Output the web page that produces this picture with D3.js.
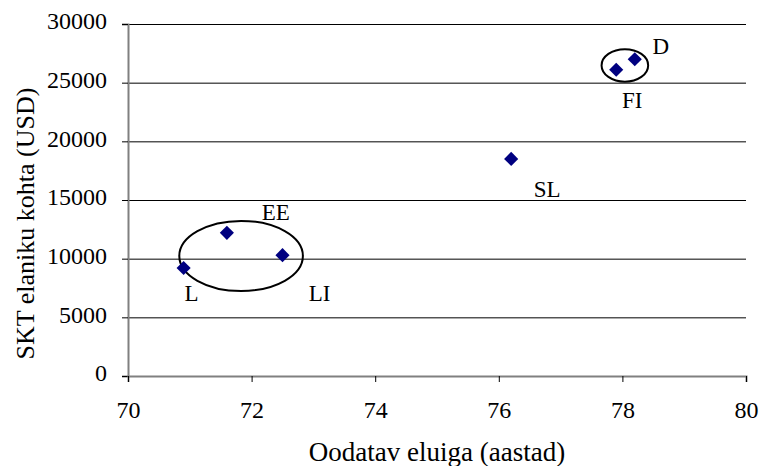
<!DOCTYPE html>
<html>
<head>
<meta charset="utf-8">
<script src="https://cdn.jsdelivr.net/npm/d3@7/dist/d3.min.js"></script>
<style>
html,body{margin:0;padding:0;background:#fff;}
</style>
</head>
<body>
<svg id="chart" width="760" height="466"></svg>
<script>
// Data
const countries = ["L", "EE", "LI", "SL", "FI", "D"];
const lifeExpectancy = [70.9, 71.6, 72.5, 76.2, 77.9, 78.2];
const gdpPerCapita = [9200, 12200, 10300, 18500, 26100, 27000];
const xTicks = [70, 72, 74, 76, 78, 80];
const yTicks = [0, 5000, 10000, 15000, 20000, 25000, 30000];
const xTitle = "Oodatav eluiga (aastad)";
const yTitle = "SKT elaniku kohta (USD)";
// Group ellipses (data units): centre x, centre y, radius x, radius y
const groupCx = [71.83, 78.04];
const groupCy = [10230, 26470];
const groupRx = [1.0, 0.377];
const groupRy = [2990, 1385];

// Label offsets (pixels) relative to each point
const labelDx = {L: 8, EE: 49, LI: 37, SL: 36, FI: 16, D: 26};
const labelDy = {L: 25, EE: -20, LI: 38, SL: 31, FI: 31, D: -13};

const FONT = "'Liberation Serif', 'Times New Roman', serif";

const svg = d3.select("#chart");
const mLeft = 128, mRight = 746, mTop = 24, mBottom = 376;

const x = d3.scaleLinear().domain([70, 80]).range([mLeft, mRight]);
const y = d3.scaleLinear().domain([0, 30000]).range([mBottom, mTop]);

// gridlines
svg.append("g").selectAll("line").data(yTicks.filter(d => d > 0)).join("line")
  .attr("x1", mLeft).attr("x2", mRight)
  .attr("y1", d => y(d) + 0.5).attr("y2", d => y(d) + 0.5)
  .attr("stroke", "#000").attr("stroke-width", 1);

// y axis
const yAxis = svg.append("g").attr("transform", `translate(${mLeft},0)`)
  .call(d3.axisLeft(y).tickValues(yTicks).tickFormat(d3.format("d")).tickSize(6).tickPadding(15));
yAxis.attr("font-family", FONT).attr("font-size", 24);
yAxis.select(".domain").attr("stroke", "#808080").attr("stroke-width", 2);
yAxis.selectAll(".tick line").attr("stroke", "#000");
yAxis.selectAll(".tick text").style("font-family", FONT).style("font-size", "24px")
  .attr("dy", "0.2em").attr("fill", "#000");

// x axis
const xAxis = svg.append("g").attr("transform", `translate(0,${mBottom})`)
  .call(d3.axisBottom(x).tickValues(xTicks).tickFormat(d3.format("d")).tickSize(6).tickPadding(20));
xAxis.attr("font-family", FONT).attr("font-size", 24);
xAxis.select(".domain").attr("stroke", "#808080").attr("stroke-width", 2);
xAxis.selectAll(".tick line").attr("stroke", "#000");
xAxis.selectAll(".tick text").style("font-family", FONT).style("font-size", "24px")
  .attr("dy", "0.65em").attr("fill", "#000");

// titles
svg.append("text").attr("x", (mLeft + mRight) / 2).attr("y", 461)
  .attr("text-anchor", "middle").style("font-family", FONT).style("font-size", "27px")
  .attr("fill", "#000").text(xTitle);
svg.append("text").attr("transform", `translate(34,${(85 + 362) / 2}) rotate(-90)`)
  .attr("text-anchor", "middle").style("font-family", FONT).style("font-size", "26px")
  .attr("fill", "#000").text(yTitle);

// ellipses
svg.append("g").selectAll("ellipse").data(groupCx).join("ellipse")
  .attr("cx", (d, i) => x(d))
  .attr("cy", (d, i) => y(groupCy[i]))
  .attr("rx", (d, i) => x(groupCx[i] + groupRx[i]) - x(groupCx[i]))
  .attr("ry", (d, i) => y(0) - y(groupRy[i]))
  .attr("fill", "none").attr("stroke", "#000").attr("stroke-width", 2);

// points
const sym = d3.symbol().type(d3.symbolSquare).size(100);
svg.append("g").selectAll("path").data(countries).join("path")
  .attr("d", sym)
  .attr("transform", (d, i) => `translate(${x(lifeExpectancy[i])},${y(gdpPerCapita[i])}) rotate(45)`)
  .attr("fill", "#000080");

// labels
svg.append("g").selectAll("text").data(countries).join("text")
  .attr("x", (d, i) => x(lifeExpectancy[i]) + labelDx[d])
  .attr("y", (d, i) => y(gdpPerCapita[i]) + labelDy[d])
  .attr("text-anchor", "middle").attr("dominant-baseline", "central")
  .style("font-family", FONT).style("font-size", "23px")
  .attr("fill", "#000").text(d => d);
</script>
</body>
</html>
